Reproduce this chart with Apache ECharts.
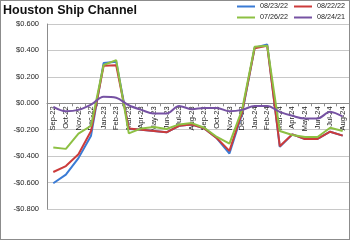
<!DOCTYPE html>
<html>
<head>
<meta charset="utf-8">
<script src="https://cdn.jsdelivr.net/npm/echarts@6/dist/echarts.min.js"></script>
<style>
  html, body { margin: 0; padding: 0; background: #fff; }
  #chart { width: 348px; height: 238px; border: 1px solid #8c8c8c; }
</style>
</head>
<body>
<div id="chart"></div>
<script>
'use strict';

/* ── Data ── */
const months = ['Sep-22', 'Oct-22', 'Nov-22', 'Dec-22', 'Jan-23', 'Feb-23', 'Mar-23', 'Apr-23',
  'May-23', 'Jun-23', 'Jul-23', 'Aug-23', 'Sep-23', 'Oct-23', 'Nov-23', 'Dec-23',
  'Jan-24', 'Feb-24', 'Mar-24', 'Apr-24', 'May-24', 'Jun-24', 'Jul-24', 'Aug-24'];

const s082322 = [-0.605, -0.54, -0.415, -0.245, 0.305, 0.315, -0.195, -0.2, -0.21, -0.22, -0.17, -0.16,
  -0.19, -0.265, -0.38, -0.08, 0.42, 0.446, -0.33, -0.235, -0.27, -0.27, -0.215, -0.245];
const s082222 = [-0.52, -0.475, -0.385, -0.21, 0.284, 0.287, -0.19, -0.2, -0.21, -0.22, -0.17, -0.16,
  -0.19, -0.265, -0.36, -0.07, 0.416, 0.435, -0.325, -0.235, -0.27, -0.27, -0.215, -0.245];
const s072622 = [-0.335, -0.345, -0.23, -0.17, 0.29, 0.327, -0.228, -0.19, -0.18, -0.195, -0.16, -0.15,
  -0.185, -0.255, -0.305, -0.05, 0.428, 0.436, -0.21, -0.24, -0.255, -0.255, -0.185, -0.21];
const s082421 = [-0.027, -0.06, -0.05, -0.01, 0.05, 0.042, -0.015, -0.05, -0.077, -0.077, -0.02, -0.045,
  -0.035, -0.035, -0.06, -0.05, -0.02, -0.02, -0.065, -0.095, -0.115, -0.115, -0.065, -0.1];

const seriesNames = ['08/23/22', '08/22/22', '07/26/22', '08/24/21'];
const seriesColors = ['#3a7bd5', '#cc3b3b', '#8dc043', '#7652a3'];

const Y_MIN = -0.8, Y_MAX = 0.6;

/* ── Layout ── */
const CH = 238;
const GRID = { left: 46, right: 0, top: 23, bottom: 30 };
const gridH = CH - GRID.top - GRID.bottom;
// category axis sits on the zero line (Excel style): shift it up from the bottom
const zeroOffset = -gridH * (0 - Y_MIN) / (Y_MAX - Y_MIN);

const FONT = 'Liberation Sans, Arial, sans-serif';

/* ── Helpers ── */
function money(v) {
  const s = '$' + Math.abs(v).toFixed(3);
  return v < -1e-9 ? '-' + s : s;
}

function lineSeries(name, data, color, smooth) {
  return {
    name: name,
    type: 'line',
    data: data,
    symbol: 'none',
    smooth: smooth ? 0.35 : false,
    lineStyle: { color: color, width: 2 },
    itemStyle: { color: color },
    emphasis: { disabled: true }
  };
}

const legendBase = {
  icon: 'rect',
  itemWidth: 18,
  itemHeight: 2,
  itemGap: 6,
  padding: 0,
  width: 130,
  textStyle: { color: '#222', fontSize: 7.2, fontFamily: FONT }
};

const chart = echarts.init(document.getElementById('chart'), null, { renderer: 'canvas' });

chart.setOption({
  animation: false,
  backgroundColor: '#fff',
  title: {
    text: 'Houston Ship Channel',
    left: 2,
    top: 3,
    padding: 0,
    textStyle: { fontSize: 12.5, fontWeight: 'bold', color: '#111', fontFamily: FONT }
  },
  legend: [
    { ...legendBase, data: seriesNames.slice(0, 2), left: 236, top: 2 },
    { ...legendBase, data: seriesNames.slice(2, 4), left: 236, top: 13 }
  ],
  grid: GRID,
  xAxis: {
    type: 'category',
    data: months,
    boundaryGap: true,
    offset: zeroOffset,
    axisLine: { onZero: false, lineStyle: { color: '#8c8c8c', width: 1 } },
    axisTick: { show: true, length: 3, lineStyle: { color: '#8c8c8c' } },
    axisLabel: { rotate: 90, interval: 0, fontSize: 7.5, color: '#222', margin: 3, fontFamily: FONT },
    splitLine: { show: false }
  },
  yAxis: {
    type: 'value',
    min: Y_MIN,
    max: Y_MAX,
    interval: 0.2,
    axisLine: { show: true, lineStyle: { color: '#8c8c8c' } },
    axisTick: { show: false },
    axisLabel: { formatter: money, fontSize: 7.5, color: '#222', margin: 8, fontFamily: FONT },
    splitLine: { lineStyle: { color: '#c8c8c8', width: 1 } }
  },
  series: [
    lineSeries(seriesNames[0], s082322, seriesColors[0], false),
    lineSeries(seriesNames[1], s082222, seriesColors[1], false),
    lineSeries(seriesNames[2], s072622, seriesColors[2], false),
    lineSeries(seriesNames[3], s082421, seriesColors[3], true)
  ]
});
</script>
</body>
</html>
